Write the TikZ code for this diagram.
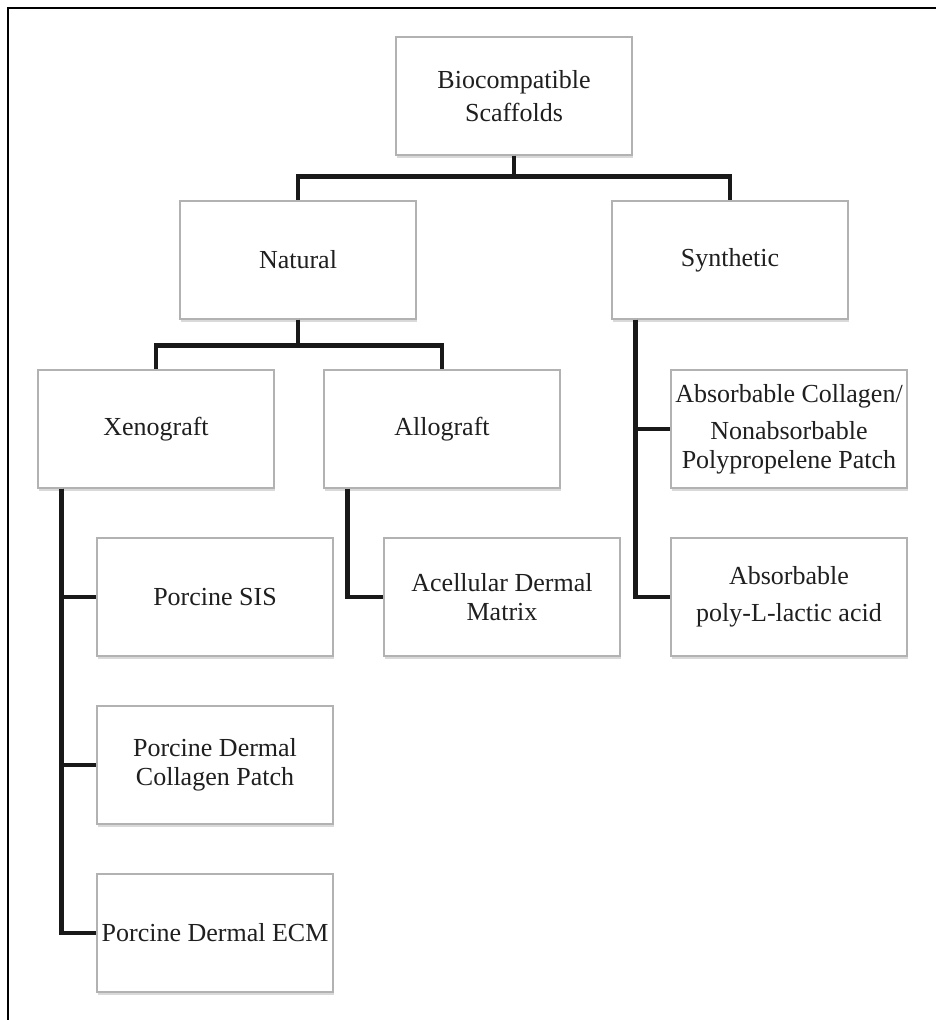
\documentclass[tikz,border=0pt]{standalone}
\usepackage{fontspec}
\setmainfont{Liberation Serif}
\usetikzlibrary{shadows}

\begin{document}
\begin{tikzpicture}[x=1pt, y=-1pt,
    box/.style={draw=gray!60, line width=1.3pt, fill=white, text=black!88,
        minimum width=236pt, minimum height=118pt, inner sep=0pt, align=center,
        font=\fontsize{26}{29}\selectfont,
        drop shadow={shadow xshift=1pt, shadow yshift=-3pt, opacity=0.3, fill=gray}},
    link/.style={line width=4.6pt, draw=black!90}]
    \useasboundingbox (0, 0) rectangle (936, 1020);
    %outer frame
    \draw [line width=2pt] (8, 1020) -- (8, 8) -- (936, 8);

    \node at (514, 96) [box, font=\fontsize{26}{33}\selectfont] (bio) {Biocompatible\\Scaffolds};
    \node at (298, 260) [box] (nat) {Natural};
    \node at (730, 260) [box] (syn) {Synthetic};
    \node at (156, 429) [box] (xeno) {Xenograft};
    \node at (442, 429) [box] (allo) {Allograft};
    \node at (789, 429) [box] (acnp) {Absorbable Collagen/\\[8pt]Nonabsorbable\\Polypropelene Patch};
    \node at (215, 597) [box] (sis) {Porcine SIS};
    \node at (502, 597) [box] (adm) {Acellular Dermal\\Matrix};
    \node at (789, 597) [box, font=\fontsize{26}{37}\selectfont] (plla) {Absorbable\\poly-L-lactic acid};
    \node at (215, 765) [box] (pdcp) {Porcine Dermal\\Collagen Patch};
    \node at (215, 933) [box] (ecm) {Porcine Dermal ECM};

    %top level
    \draw [link] (bio.south) |- ([yshift=24pt]nat.north) -- (nat.north);
    \draw [link] (bio.south) |- ([yshift=24pt]syn.north) -- (syn.north);
    %natural branch
    \draw [link] (nat.south) |- ([yshift=24pt]xeno.north) -- (xeno.north);
    \draw [link] (nat.south) |- ([yshift=24pt]allo.north) -- (allo.north);
    %xenograft products
    \draw [link] ([xshift=24pt]xeno.south west) |- (sis.west);
    \draw [link] ([xshift=24pt]xeno.south west) |- (pdcp.west);
    \draw [link] ([xshift=24pt]xeno.south west) |- (ecm.west);
    %allograft products
    \draw [link] ([xshift=24pt]allo.south west) |- (adm.west);
    %synthetic products
    \draw [link] ([xshift=24pt]syn.south west) |- (acnp.west);
    \draw [link] ([xshift=24pt]syn.south west) |- (plla.west);

\end{tikzpicture}
\end{document}
